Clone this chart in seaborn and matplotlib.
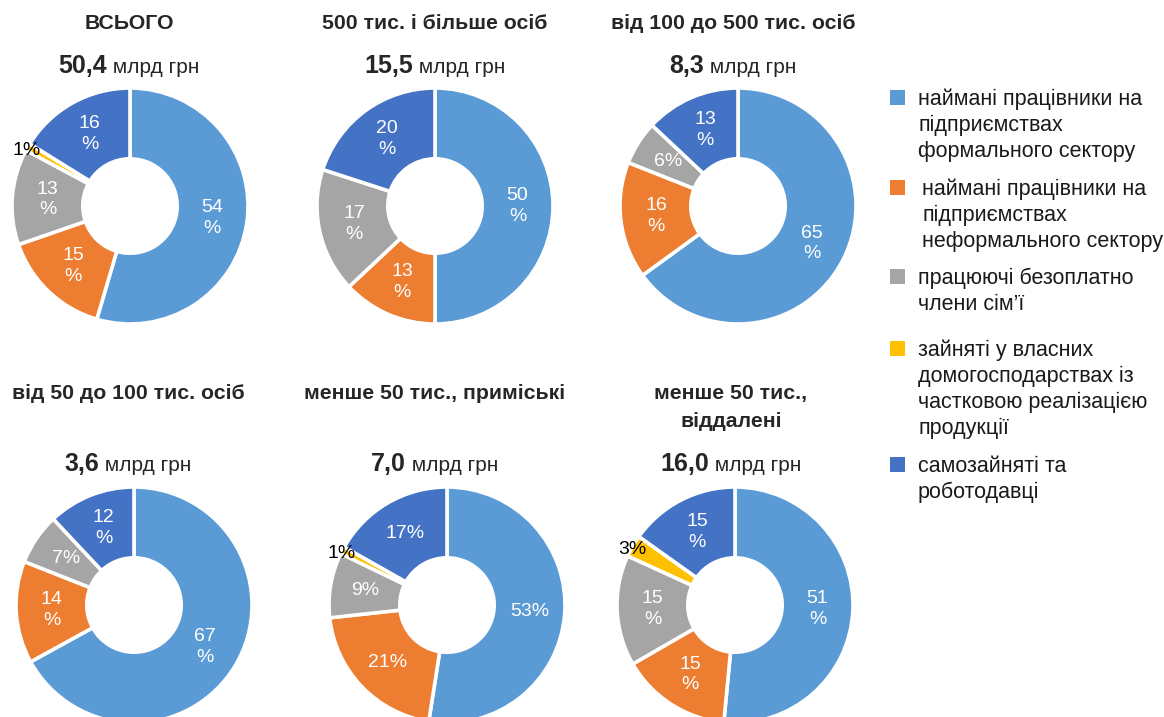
import matplotlib
matplotlib.use("Agg")
import matplotlib.pyplot as plt
import seaborn as sns
import numpy as np
from matplotlib.patches import Rectangle

# ---- data ---------------------------------------------------------------
categories = [
    "наймані працівники на\nпідприємствах\nформального сектору",
    "наймані працівники на\nпідприємствах\nнеформального сектору",
    "працюючі безоплатно\nчлени сім’ї",
    "зайняті у власних\nдомогосподарствах із\nчастковою реалізацією\nпродукції",
    "самозайняті та\nроботодавці",
]
titles = [
    "ВСЬОГО",
    "500 тис. і більше осіб",
    "від 100 до 500 тис. осіб",
    "від 50 до 100 тис. осіб",
    "менше 50 тис., приміські",
    "менше 50 тис.,\nвіддалені",
]
totals = ["50,4", "15,5", "8,3", "3,6", "7,0", "16,0"]
unit = "млрд грн"

formal = [54, 50, 65, 67, 53, 51]
informal = [15, 13, 16, 14, 21, 15]
unpaid = [13, 17, 6, 7, 9, 15]
household = [1, 0, 0, 0, 1, 3]
self_employed = [16, 20, 13, 12, 17, 15]

# ---- style --------------------------------------------------------------
sns.set_style("white")
plt.rcParams["font.family"] = ["Liberation Sans", "DejaVu Sans"]
colors = ["#5B9BD5", "#ED7D31", "#A5A5A5", "#FFC000", "#4472C4"]

W, H = 1164, 717
fig = plt.figure(figsize=(W / 100, H / 100), dpi=100)
fig.patch.set_facecolor("white")

def px(x, y):
    """image pixel (top-left origin) -> figure fraction"""
    return x / W, 1 - y / H

# donut centres (pixels), outer radius
centres = [(130, 206), (435, 206), (738, 206), (134, 605), (447, 605), (735, 605)]
text_x = [129, 435, 733, 128, 435, 731]
R = 118
# two-digit labels wrapped onto two lines
wrap_labels = [True, True, True, True, False, True]

title_base = [29, 29, 29, 399, 399, 399]
total_base = [73, 73, 73, 471, 471, 471]

renderer = fig.canvas.get_renderer()

for i in range(6):
    cx, cy = centres[i]
    pad = 1.08
    x0, y0 = px(cx - R * pad, cy + R * pad)
    ax = fig.add_axes([x0, y0, 2 * R * pad / W, 2 * R * pad / H])
    vals = [formal[i], informal[i], unpaid[i], household[i], self_employed[i]]
    idx = [k for k, v in enumerate(vals) if v > 0]
    v_use = [vals[k] for k in idx]
    c_use = [colors[k] for k in idx]
    wedges, _ = ax.pie(
        v_use, colors=c_use, startangle=90, counterclock=False, radius=1,
        wedgeprops=dict(width=0.6, edgecolor="white", linewidth=2.6),
    )
    ax.set_xlim(-pad, pad)
    ax.set_ylim(-pad, pad)
    ax.set_aspect("equal")
    ax.axis("off")
    for w, k, v in zip(wedges, idx, v_use):
        ang = np.deg2rad((w.theta1 + w.theta2) / 2)
        if k == 3:  # small household share sits just outside the ring
            x, y = 1.03 * np.cos(ang) + 0.02, 1.03 * np.sin(ang) - 0.045
            col, lab = "black", f"{v}%"
        else:
            x, y = 0.7 * np.cos(ang), 0.7 * np.sin(ang)
            col = "white"
            lab = f"{v}\n%" if (wrap_labels[i] and v >= 10) else f"{v}%"
        ax.text(x, y, lab, ha="center", va="center",
                color=col, fontsize=14, linespacing=1.3)

    # chart title
    for j, line in enumerate(titles[i].split("\n")):
        fig.text(*px(text_x[i], title_base[i] + j * 28),
                 line, ha="center", va="baseline", fontsize=15.3, fontweight="bold")

    # total with bold number
    t1 = fig.text(0, 0, totals[i], fontsize=18, fontweight="bold", va="baseline", ha="left")
    t2 = fig.text(0, 0, " " + unit, fontsize=15, va="baseline", ha="left")
    w1 = t1.get_window_extent(renderer).width
    w2 = t2.get_window_extent(renderer).width
    start = text_x[i] - (w1 + w2) / 2
    t1.set_position(px(start, total_base[i]))
    t2.set_position(px(start + w1, total_base[i]))

# ---- legend -------------------------------------------------------------
first_base = [105, 195, 284, 356, 472]
text_left = [918, 922, 918, 918, 918]
for k, lab in enumerate(categories):
    b = first_base[k]
    sx, sy = px(890, b)
    fig.add_artist(Rectangle((sx, sy), 15 / W, 15 / H, transform=fig.transFigure,
                             facecolor=colors[k], edgecolor="none"))
    for j, line in enumerate(lab.split("\n")):
        fig.text(*px(text_left[k], b + j * 26), line, ha="left", va="baseline",
                 fontsize=15.5, color="#1a1a1a")

fig.savefig("out.png", dpi=100, facecolor="white")
